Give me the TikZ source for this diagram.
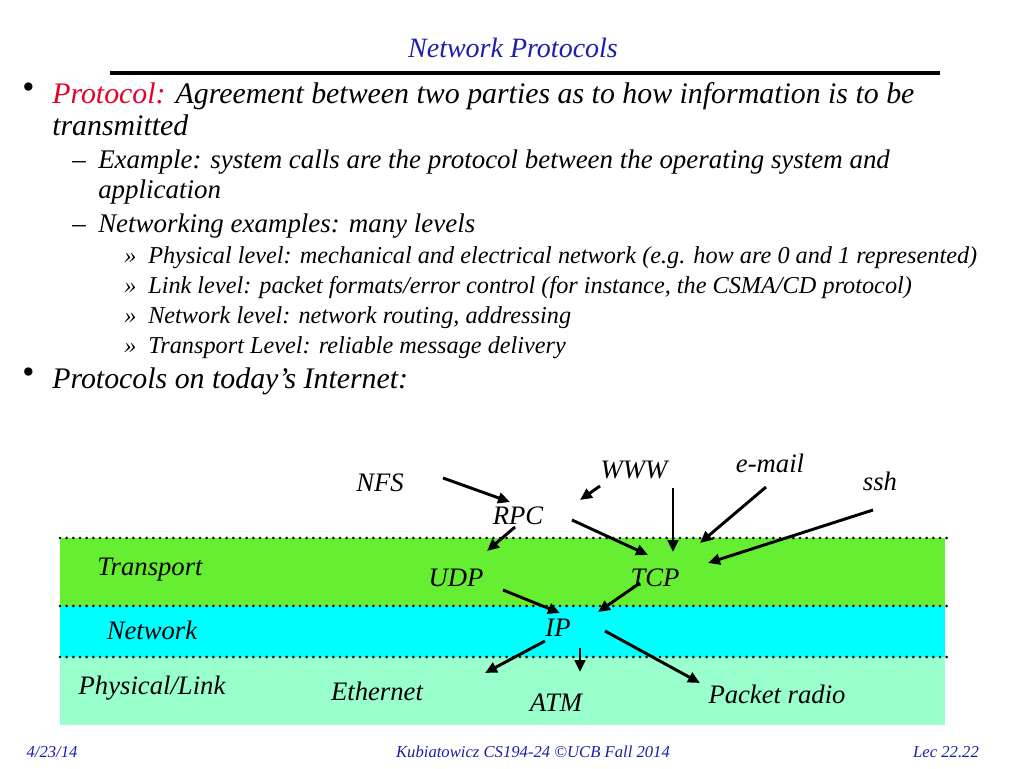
\documentclass[tikz,border=0pt]{standalone}
\usepackage{fontspec}
\setmainfont{Liberation Serif}
\usetikzlibrary{arrows.meta}
\definecolor{tblue}{RGB}{30,30,170}
\definecolor{tred}{RGB}{230,0,40}
\definecolor{bgreen}{RGB}{102,238,51}
\definecolor{bcyan}{RGB}{0,255,255}
\definecolor{bmint}{RGB}{153,255,204}
\begin{document}
\begin{tikzpicture}[x=0.75pt,y=-0.75pt,
  t1/.style={anchor=base west,inner sep=0,font=\itshape\fontsize{22.4}{22}\selectfont},
  t2/.style={anchor=base west,inner sep=0,font=\itshape\fontsize{20.2}{20}\selectfont},
  t3/.style={anchor=base west,inner sep=0,font=\itshape\fontsize{18.2}{18}\selectfont},
  bul/.style={anchor=base west,inner sep=0,font=\fontsize{26}{26}\selectfont},
  lab/.style={inner sep=1pt,font=\itshape\fontsize{20}{20}\selectfont},
  foot/.style={inner sep=0,text=tblue,font=\itshape\fontsize{12.5}{12}\selectfont},
  arr/.style={-{Triangle[length=9pt,width=8pt]},line width=2.2pt},
  dots/.style={line width=2.2pt,dash pattern=on 0pt off 5pt,line cap=round}]
\useasboundingbox (0,0) rectangle (1024,768);
\fill[white] (0,0) rectangle (1024,768);
% title
\node[text=tblue,font=\itshape\fontsize{21}{21}\selectfont] (title) at (513,48) {Network Protocols};
\draw[line width=3pt] (110,73) -- (940,73);
% bullets
\node[bul] (b1) at (22,98) {•};
\node[t1] (l1) at (52,103) {\textcolor{tred}{Protocol:} Agreement between two parties as to how information is to be};
\node[t1] (l2) at (52,135) {transmitted};
\node[t2] (d1) at (72,168) {–};
\node[t2] (l3) at (98,168) {Example: system calls are the protocol between the operating system and};
\node[t2] (l4) at (98,198) {application};
\node[t2] (d2) at (72,232) {–};
\node[t2] (l5) at (98,232) {Networking examples: many levels};
\node[t3] (r1) at (124,263) {»};
\node[t3] (l6) at (148,263) {Physical level: mechanical and electrical network (e.g. how are 0 and 1 represented)};
\node[t3] (r2) at (124,293) {»};
\node[t3] (l7) at (148,293) {Link level: packet formats/error control (for instance, the CSMA/CD protocol)};
\node[t3] (r3) at (124,323) {»};
\node[t3] (l8) at (148,323) {Network level: network routing, addressing};
\node[t3] (r4) at (124,353) {»};
\node[t3] (l9) at (148,353) {Transport Level: reliable message delivery};
\node[bul] (b2) at (22,383) {•};
\node[t1] (l10) at (52,388) {Protocols on today’s Internet:};
% bands
\fill[bgreen] (60,538) rectangle (945,606);
\fill[bcyan] (60,606) rectangle (945,657);
\fill[bmint] (60,657) rectangle (945,725);
\draw[dots] (60,538) -- (950,538);
\draw[dots] (60,606) -- (950,606);
\draw[dots] (60,657) -- (950,657);
% labels
\node[lab] (nfs) at (380,483) {NFS};
\node[lab] (rpc) at (518,516) {RPC};
\node[lab] (www) at (634,470) {WWW};
\node[lab] (mail) at (770,463) {e-mail};
\node[lab] (ssh) at (880,481) {ssh};
\node[lab] (trans) at (150,570) {Transport};
\node[lab] (udp) at (456,578) {UDP};
\node[lab] (tcp) at (655,578) {TCP};
\node[lab] (net) at (152,630) {Network};
\node[lab] (ip) at (558,628) {IP};
\node[lab] (phys) at (152,688) {Physical/Link};
\node[lab] (eth) at (377,691) {Ethernet};
\node[lab] (atm) at (556,703) {ATM};
\node[lab] (radio) at (777,694) {Packet radio};
% arrow endpoints
\coordinate (a1) at (443,478); \coordinate (a2) at (510,502);
\coordinate (b1c) at (600,486); \coordinate (b2c) at (580,500);
\coordinate (c1) at (515,527); \coordinate (c2) at (487,551);
\coordinate (e1) at (572,520); \coordinate (e2) at (648,555);
\coordinate (f1) at (673,488); \coordinate (f2) at (673,552);
\coordinate (g1) at (766,487); \coordinate (g2) at (700,543);
\coordinate (h1) at (873,510); \coordinate (h2) at (708,563);
\coordinate (i1) at (503,590); \coordinate (i2) at (560,613);
\coordinate (j1) at (640,583); \coordinate (j2) at (598,612);
\coordinate (k1) at (545,641); \coordinate (k2) at (485,673);
\coordinate (m1) at (580,648); \coordinate (m2) at (580,672);
\coordinate (n1) at (605,631); \coordinate (n2) at (700,683);
\foreach \p/\q in {a1/a2,b1c/b2c,c1/c2,e1/e2,f1/f2,g1/g2,h1/h2,i1/i2,j1/j2,k1/k2,m1/m2,n1/n2}
  \draw[arr] (\p) -- (\q);
% footer
\node[foot] (date) at (52,752) {4/23/14};
\node[foot] (cred) at (533,752) {Kubiatowicz CS194-24 ©UCB Fall 2014};
\node[foot] (lec) at (946,752) {Lec 22.22};
\end{tikzpicture}
\end{document}
